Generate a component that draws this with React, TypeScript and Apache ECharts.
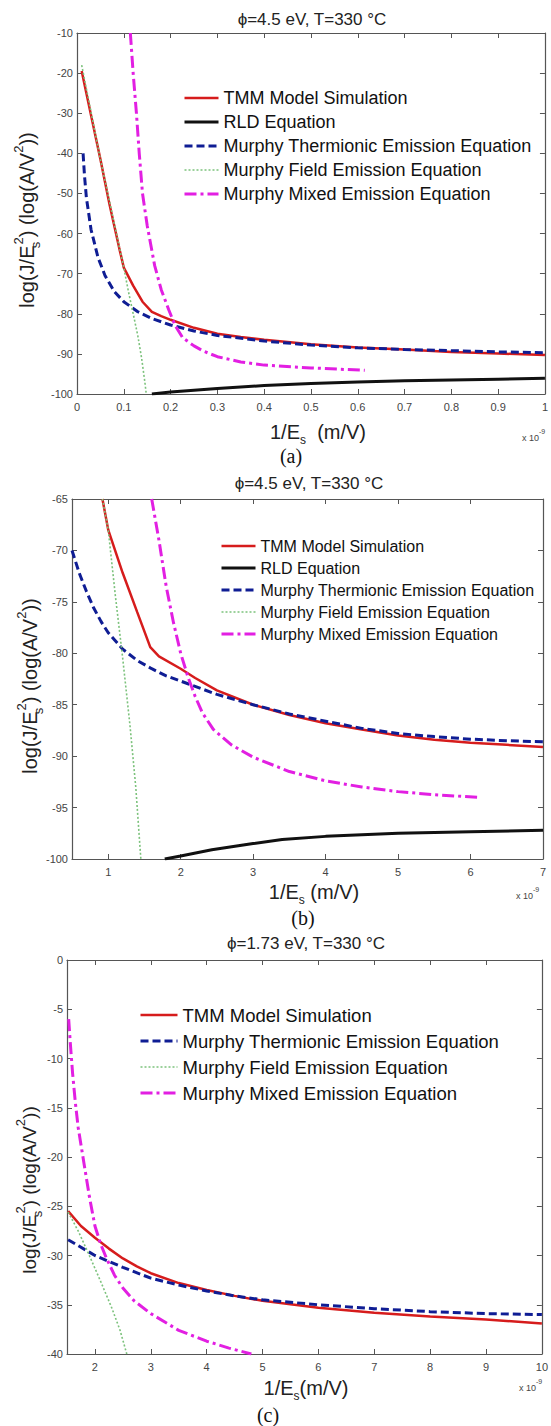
import React, { useEffect, useRef } from "react";
import * as echarts from "echarts";

const F = "'Liberation Sans', Arial, sans-serif";
const SERIF = "'Liberation Serif', 'Times New Roman', serif";

const seriesNames = [
  "TMM Model Simulation",
  "RLD Equation",
  "Murphy Thermionic Emission Equation",
  "Murphy Field Emission Equation",
  "Murphy Mixed Emission Equation",
];

const panelTitles = ["ϕ=4.5 eV, T=330 °C", "ϕ=4.5 eV, T=330 °C", "ϕ=1.73 eV, T=330 °C"];
const panelLabels = ["(a)", "(b)", "(c)"];

// x tick labels (units of 1e-9 m/V as printed on the figure)
const aXTicks = [0, 0.1, 0.2, 0.3, 0.4, 0.5, 0.6, 0.7, 0.8, 0.9, 1];
const bXTicks = [1, 2, 3, 4, 5, 6, 7];
const cXTicks = [2, 3, 4, 5, 6, 7, 8, 9, 10];

// ---------- panel (a) ----------
const aTmm = [[0.01, -19.5], [0.03, -30.5], [0.05, -41.5], [0.07, -53], [0.09, -63.5], [0.1, -68.5], [0.12, -73], [0.14, -77], [0.16, -79.5], [0.18, -80.6], [0.2, -81.5], [0.25, -83.5], [0.3, -85], [0.35, -85.8], [0.4, -86.5], [0.5, -87.6], [0.6, -88.4], [0.7, -88.9], [0.8, -89.5], [0.9, -89.9], [1.0, -90.3]];
const aRld = [[0.16, -100], [0.2, -99.5], [0.3, -98.6], [0.4, -97.9], [0.5, -97.4], [0.6, -97.0], [0.7, -96.7], [0.8, -96.5], [0.9, -96.3], [1.0, -96.1]];
const aThermionic = [[0.013, -40], [0.016, -45.5], [0.02, -51], [0.03, -59], [0.045, -66], [0.06, -70.5], [0.08, -74.5], [0.1, -77], [0.13, -79.5], [0.16, -81.2], [0.2, -82.8], [0.25, -84.3], [0.3, -85.4], [0.4, -86.8], [0.5, -87.8], [0.6, -88.5], [0.7, -88.9], [0.8, -89.2], [0.9, -89.5], [1.0, -89.7]];
const aField = [[0.01, -18], [0.05, -41.5], [0.1, -68.5], [0.11, -74.5], [0.121, -80.5], [0.13, -85.5], [0.138, -91], [0.145, -97], [0.148, -100]];
const aMixed = [[0.114, -10], [0.12, -20], [0.127, -30], [0.133, -40], [0.14, -50], [0.15, -58], [0.166, -68], [0.18, -74], [0.196, -79], [0.21, -83], [0.226, -86], [0.25, -88], [0.27, -89.3], [0.3, -90.7], [0.35, -92], [0.4, -92.8], [0.5, -93.5], [0.615, -94.1]];

// ---------- panel (b) ----------
const bTmm = [[0.92, -65], [1.0, -68], [1.2, -72.2], [1.4, -76], [1.58, -79.4], [1.7, -80.3], [2.0, -81.5], [2.2, -82.4], [2.5, -83.6], [3.0, -85.0], [3.5, -86.0], [4.0, -86.8], [4.5, -87.4], [5.0, -88.0], [5.5, -88.4], [6.0, -88.7], [6.5, -88.9], [7.0, -89.1]];
const bRld = [[1.78, -100], [2.0, -99.7], [2.43, -99.1], [3.0, -98.5], [3.4, -98.1], [4.0, -97.8], [5.0, -97.5], [6.0, -97.35], [7.0, -97.2]];
const bThermionic = [[0.5, -70], [0.6, -72.2], [0.7, -74.0], [0.8, -75.6], [0.9, -76.9], [1.0, -78], [1.2, -79.6], [1.4, -80.7], [1.6, -81.5], [1.8, -82.2], [2.0, -82.7], [2.5, -84.0], [3.0, -85.0], [3.5, -85.9], [4.0, -86.6], [4.5, -87.3], [5.0, -87.8], [5.5, -88.1], [6.0, -88.35], [6.5, -88.5], [7.0, -88.6]];
const bField = [[0.92, -65], [1.0, -68], [1.1, -74.5], [1.2, -80.5], [1.3, -87], [1.38, -93], [1.45, -100]];
const bMixed = [[1.6, -65], [1.7, -69], [1.8, -73.5], [1.9, -77], [2.0, -80], [2.1, -82.3], [2.2, -84.2], [2.3, -85.8], [2.45, -87.4], [2.7, -88.9], [3.0, -90.1], [3.5, -91.5], [4.0, -92.4], [4.5, -93.0], [5.0, -93.45], [5.5, -93.75], [6.1, -94.0]];

// ---------- panel (c) ----------
const cTmm = [[1.52, -25.5], [1.75, -27.0], [2.0, -28.2], [2.25, -29.3], [2.5, -30.3], [2.75, -31.1], [3.0, -31.8], [3.5, -32.8], [4.0, -33.5], [4.5, -34.1], [5.0, -34.6], [6.0, -35.3], [7.0, -35.8], [8.0, -36.2], [9.0, -36.5], [10.0, -36.9]];
const cThermionic = [[1.52, -28.4], [2.0, -30.0], [2.5, -31.2], [3.0, -32.3], [3.5, -33.0], [4.0, -33.6], [4.5, -34.1], [5.0, -34.5], [6.0, -35.0], [7.0, -35.4], [8.0, -35.7], [9.0, -35.9], [10.0, -36.0]];
const cField = [[1.52, -25.6], [1.7, -27.5], [1.9, -30], [2.1, -32.6], [2.3, -35.3], [2.45, -37.6], [2.57, -40]];
const cMixed = [[1.53, -6], [1.56, -8.5], [1.6, -11.5], [1.65, -14.5], [1.7, -17], [1.8, -20.5], [1.9, -24], [2.0, -27], [2.1, -28.8], [2.2, -30.2], [2.35, -32], [2.5, -33.3], [2.7, -34.6], [3.0, -35.9], [3.5, -37.6], [4.0, -38.7], [4.4, -39.4], [4.8, -40]];

const lineStyles: any[] = [
  { color: "#d61c1c", width: 2.5, type: "solid" },
  { color: "#111111", width: 3, type: "solid" },
  { color: "#0f1d94", width: 3, type: [8, 4] },
  { color: "#7cc27c", width: 1.6, type: [2, 2] },
  { color: "#e21fe2", width: 3, type: [12, 4, 3, 4] },
];

const panels = [
  {
    grid: { left: 77, top: 33, width: 470, height: 361 },
    xMin: 0, xMax: 1, xTicks: aXTicks, yMin: -100, yMax: -10, yInt: 10,
    data: [aTmm, aRld, aThermionic, aField, aMixed],
    legend: { left: 183, top: 86, itemWidth: 34, fontSize: 18, lh: 24 },
    title: { x: 312, y: 19 },
    yName: { x: 27, y: 220, fs: 20 },
    xName: { x: 318, y: 432, text: "{n|1/E}{sb|s}{n|  (m/V)}" },
    note: { x: 522, y: 435 },
    label: { x: 291, y: 456 },
  },
  {
    grid: { left: 72, top: 499, width: 471, height: 360 },
    xMin: 0.5, xMax: 7, xTicks: bXTicks, yMin: -100, yMax: -65, yInt: 5,
    data: [bTmm, bRld, bThermionic, bField, bMixed],
    legend: { left: 220, top: 535, itemWidth: 34, fontSize: 16, lh: 22 },
    title: { x: 309, y: 483 },
    yName: { x: 30, y: 686, fs: 20 },
    xName: { x: 314, y: 892, text: "{n|1/E}{sb|s}{n| (m/V)}" },
    note: { x: 516, y: 893 },
    label: { x: 303, y: 918 },
  },
  {
    grid: { left: 67, top: 960, width: 480, height: 394 },
    xMin: 1.5, xMax: 10, xTicks: cXTicks, yMin: -40, yMax: 0, yInt: 5,
    data: [cTmm, null, cThermionic, cField, cMixed],
    legend: { left: 139, top: 1002, itemWidth: 37, fontSize: 18.5, lh: 26 },
    title: { x: 306, y: 943 },
    yName: { x: 29, y: 1190, fs: 19 },
    xName: { x: 306, y: 1388, text: "{n|1/E}{sb|s}{n|(m/V)}" },
    note: { x: 519, y: 1385 },
    label: { x: 268, y: 1415 },
  },
];

const AX = "#555555";

function buildOption() {
  const grid: any[] = [];
  const xAxis: any[] = [];
  const yAxis: any[] = [];
  const series: any[] = [];
  const legend: any[] = [];
  const graphic: any[] = [];

  panels.forEach((p, i) => {
    grid.push({ ...p.grid, containLabel: false });
    const axLine = { show: true, onZero: false, lineStyle: { color: AX, width: 1.2 } };
    const tick = { show: true, inside: true, length: 5, customValues: p.xTicks, lineStyle: { color: AX, width: 1 } };
    xAxis.push({
      type: "value", gridIndex: i, min: p.xMin, max: p.xMax, position: "bottom",
      axisLine: axLine, axisTick: tick,
      axisLabel: { customValues: p.xTicks, fontSize: 11, color: "#444", fontFamily: F, margin: 7, hideOverlap: false },
      splitLine: { show: false },
    });
    xAxis.push({
      type: "value", gridIndex: i, min: p.xMin, max: p.xMax, position: "top",
      axisLine: axLine, axisTick: tick, axisLabel: { show: false }, splitLine: { show: false },
    });
    const yTick = { show: true, inside: true, length: 5, lineStyle: { color: AX, width: 1 } };
    yAxis.push({
      type: "value", gridIndex: i, min: p.yMin, max: p.yMax, interval: p.yInt, position: "left",
      axisLine: axLine, axisTick: yTick,
      axisLabel: { fontSize: 11, color: "#444", fontFamily: F, margin: 4 },
      splitLine: { show: false },
    });
    yAxis.push({
      type: "value", gridIndex: i, min: p.yMin, max: p.yMax, interval: p.yInt, position: "right",
      axisLine: axLine, axisTick: yTick, axisLabel: { show: false }, splitLine: { show: false },
    });

    const names: any[] = [];
    p.data.forEach((d, k) => {
      if (!d) return;
      series.push({
        type: "line", name: seriesNames[k], xAxisIndex: 2 * i, yAxisIndex: 2 * i,
        data: d, showSymbol: false, symbol: "none", smooth: false, clip: true,
        lineStyle: { ...lineStyles[k], cap: "butt" }, itemStyle: { color: lineStyles[k].color },
        z: 2 + k,
      });
      names.push({
        name: seriesNames[k],
        lineStyle: { width: lineStyles[k].width, type: lineStyles[k].type, color: lineStyles[k].color },
        itemStyle: { opacity: 0, color: "rgba(0,0,0,0)", borderColor: "rgba(0,0,0,0)", borderWidth: 0 },
      });
    });

    legend.push({
      orient: "vertical", left: p.legend.left, top: p.legend.top, padding: 0,
      itemWidth: p.legend.itemWidth, itemHeight: 10, itemGap: 0, selectedMode: false,
      textStyle: { fontSize: p.legend.fontSize, fontFamily: F, color: "#111", lineHeight: p.legend.lh },
      data: names,
    });

    graphic.push({
      type: "text", x: p.title.x, y: p.title.y,
      style: { text: panelTitles[i], fontSize: 17, fontFamily: F, fill: "#222", align: "center", verticalAlign: "middle" },
    });
    graphic.push({
      type: "text", x: p.yName.x, y: p.yName.y, rotation: Math.PI / 2,
      style: {
        text: "{n|log(J/E}{sb|s}{sp|2}{n|) (log(A/V}{sp|2}{n|))}",
        align: "center", verticalAlign: "middle", fill: "#222",
        rich: {
          n: { fontSize: p.yName.fs, fontFamily: F, fill: "#222", lineHeight: 30, verticalAlign: "middle" },
          sb: { fontSize: 13, fontFamily: F, fill: "#222", lineHeight: 13, verticalAlign: "bottom", width: 1 },
          sp: { fontSize: 13, fontFamily: F, fill: "#222", lineHeight: 13, verticalAlign: "top" },
        },
      },
    });
    graphic.push({
      type: "text", x: p.xName.x, y: p.xName.y,
      style: {
        text: p.xName.text, align: "center", verticalAlign: "middle", fill: "#222",
        rich: {
          n: { fontSize: 20, fontFamily: F, fill: "#222", lineHeight: 28, verticalAlign: "middle" },
          sb: { fontSize: 12, fontFamily: F, fill: "#222", lineHeight: 12, verticalAlign: "bottom" },
        },
      },
    });
    graphic.push({
      type: "text", x: p.note.x, y: p.note.y,
      style: {
        text: "{t|x 10}{u|-9}", align: "left", verticalAlign: "middle", fill: "#444",
        rich: {
          t: { fontSize: 9, fontFamily: F, fill: "#444", lineHeight: 14, verticalAlign: "bottom" },
          u: { fontSize: 7, fontFamily: F, fill: "#444", lineHeight: 8, verticalAlign: "top" },
        },
      },
    });
    graphic.push({
      type: "text", x: p.label.x, y: p.label.y,
      style: { text: panelLabels[i], fontSize: 20, fontFamily: SERIF, fill: "#111", align: "center", verticalAlign: "middle" },
    });
  });

  return {
    animation: false,
    backgroundColor: "#ffffff",
    grid, xAxis, yAxis, series, legend, graphic,
  };
}

export default function App() {
  const ref = useRef<HTMLDivElement>(null);
  useEffect(() => {
    if (!ref.current) return;
    const chart = echarts.init(ref.current, undefined, { renderer: "svg" });
    chart.setOption(buildOption() as any);
    return () => chart.dispose();
  }, []);
  return (
    <div
      ref={ref}
      style={{ position: "absolute", left: 0, top: 0, width: 551, height: 1426, background: "#fff" }}
    />
  );
}
